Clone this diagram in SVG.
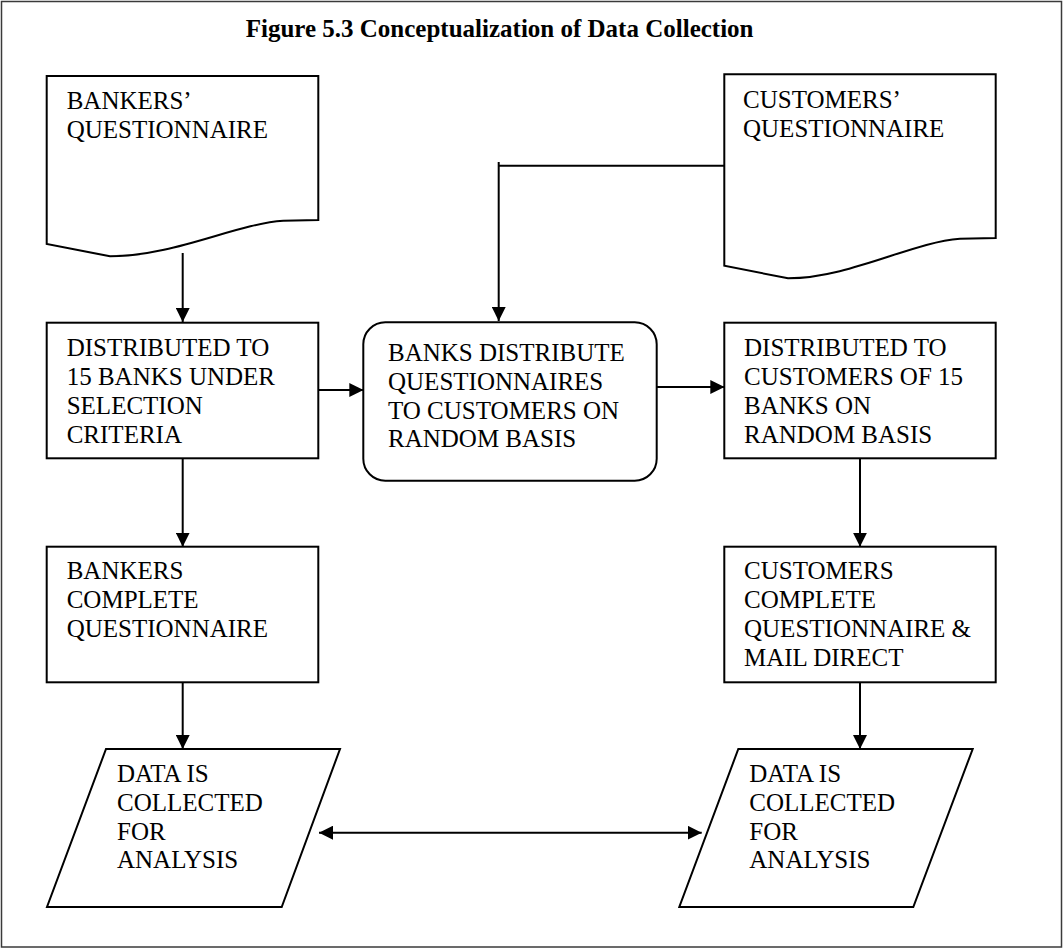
<svg xmlns="http://www.w3.org/2000/svg" width="1063" height="948" viewBox="0 0 1063 948">
  <style>
    .frame { fill: #ffffff; stroke: #3a3a3a; stroke-width: 1.5; }
    .shape { fill: #ffffff; stroke: #000000; stroke-width: 2; }
    .line { fill: none; stroke: #000000; stroke-width: 2; }
    .label { font-family: "Liberation Serif", "Times New Roman", serif; font-size: 25px; fill: #000000; }
    .title { font-family: "Liberation Serif", "Times New Roman", serif; font-size: 25px; font-weight: bold; fill: #000000; }
  </style>
  <defs>
    <marker id="arrow" viewBox="0 0 14 14" refX="14" refY="7" markerWidth="14" markerHeight="14" markerUnits="userSpaceOnUse" orient="auto-start-reverse">
      <path d="M0,0 L14,7 L0,14 Z" fill="#000000"/>
    </marker>
  </defs>

  <!-- outer frame -->
  <rect class="frame" x="1.5" y="1.5" width="1060" height="945.5"/>

  <text class="title" x="245.7" y="37">Figure 5.3 Conceptualization of Data Collection</text>

  <!-- connectors -->
  <g id="connectors">
    <line class="line" x1="182.7" y1="253" x2="182.7" y2="322" marker-end="url(#arrow)"/>
    <polyline class="line" points="724,165.7 498.7,165.7"/>
    <line class="line" x1="498.7" y1="162" x2="498.7" y2="321" marker-end="url(#arrow)"/>
    <line class="line" x1="318.3" y1="390" x2="363.3" y2="390" marker-end="url(#arrow)"/>
    <line class="line" x1="656.7" y1="387" x2="724.3" y2="387" marker-end="url(#arrow)"/>
    <line class="line" x1="182.7" y1="458.3" x2="182.7" y2="546.7" marker-end="url(#arrow)"/>
    <line class="line" x1="860" y1="458.3" x2="860" y2="546.7" marker-end="url(#arrow)"/>
    <line class="line" x1="182.7" y1="682.3" x2="182.7" y2="749" marker-end="url(#arrow)"/>
    <line class="line" x1="860" y1="682.3" x2="860" y2="749" marker-end="url(#arrow)"/>
    <line class="line" x1="319" y1="832.7" x2="701.7" y2="832.7" marker-start="url(#arrow)" marker-end="url(#arrow)"/>
  </g>

  <!-- document: bankers' questionnaire -->
  <g id="bankers-questionnaire">
    <path class="shape" d="M46.7,76 H318.3 V220 L283.3,220.7 C235,224 175,256 110,256.3 L46.7,244 Z"/>
    <text class="label" x="66.7" y="109">BANKERS’</text>
    <text class="label" x="66.7" y="138">QUESTIONNAIRE</text>
  </g>

  <!-- document: customers' questionnaire -->
  <g id="customers-questionnaire">
    <path class="shape" d="M724.3,74.3 H995.7 V238 L960,238.7 C912,242 850,278 788,278.3 L724.3,265.7 Z"/>
    <text class="label" x="743" y="108">CUSTOMERS’</text>
    <text class="label" x="743" y="137">QUESTIONNAIRE</text>
  </g>

  <g id="distributed-banks">
    <rect class="shape" x="46.7" y="322.7" width="271.6" height="135.6"/>
    <text class="label" x="66.7" y="356">DISTRIBUTED TO</text>
    <text class="label" x="66.7" y="385">15 BANKS UNDER</text>
    <text class="label" x="66.7" y="414">SELECTION</text>
    <text class="label" x="66.7" y="443">CRITERIA</text>
  </g>

  <g id="banks-distribute">
    <rect class="shape" x="363.3" y="322.3" width="293.4" height="158.4" rx="22" ry="22"/>
    <text class="label" x="388" y="361">BANKS DISTRIBUTE</text>
    <text class="label" x="388" y="390">QUESTIONNAIRES</text>
    <text class="label" x="388" y="418.5">TO CUSTOMERS ON</text>
    <text class="label" x="388" y="447">RANDOM BASIS</text>
  </g>

  <g id="distributed-customers">
    <rect class="shape" x="724.3" y="322.7" width="271.4" height="135.6"/>
    <text class="label" x="744" y="356">DISTRIBUTED TO</text>
    <text class="label" x="744" y="385">CUSTOMERS OF 15</text>
    <text class="label" x="744" y="414">BANKS ON</text>
    <text class="label" x="744" y="443">RANDOM BASIS</text>
  </g>

  <g id="bankers-complete">
    <rect class="shape" x="46.7" y="546.7" width="271.6" height="135.6"/>
    <text class="label" x="66.7" y="579">BANKERS</text>
    <text class="label" x="66.7" y="608">COMPLETE</text>
    <text class="label" x="66.7" y="637">QUESTIONNAIRE</text>
  </g>

  <g id="customers-complete">
    <rect class="shape" x="724.3" y="546.7" width="271.4" height="135.6"/>
    <text class="label" x="744" y="579">CUSTOMERS</text>
    <text class="label" x="744" y="608">COMPLETE</text>
    <text class="label" x="744" y="637">QUESTIONNAIRE &amp;</text>
    <text class="label" x="744" y="666">MAIL DIRECT</text>
  </g>

  <g id="data-left">
    <polygon class="shape" points="106,749 340,749 281.7,907 47,907"/>
    <text class="label" x="117" y="782">DATA IS</text>
    <text class="label" x="117" y="811">COLLECTED</text>
    <text class="label" x="117" y="839.5">FOR</text>
    <text class="label" x="117" y="868">ANALYSIS</text>
  </g>

  <g id="data-right">
    <polygon class="shape" points="738.3,749 972.7,749 913.3,907 679.3,907"/>
    <text class="label" x="749.3" y="782">DATA IS</text>
    <text class="label" x="749.3" y="811">COLLECTED</text>
    <text class="label" x="749.3" y="839.5">FOR</text>
    <text class="label" x="749.3" y="868">ANALYSIS</text>
  </g>
</svg>
